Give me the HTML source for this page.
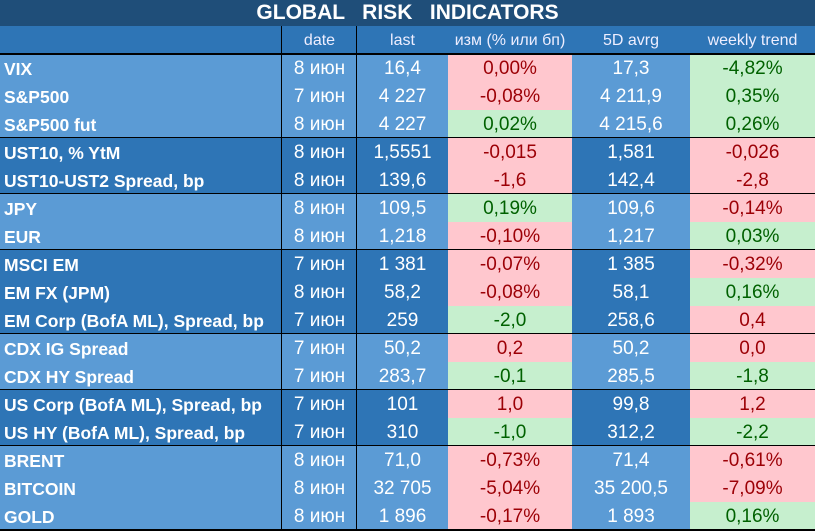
<!DOCTYPE html>
<html><head><meta charset="utf-8"><style>
body{margin:0;width:815px;height:530px;overflow:hidden;background:#fff;font-family:"Liberation Sans","DejaVu Sans",sans-serif}
#t{position:relative;width:815px;height:530px}
.c{position:absolute;box-sizing:border-box;color:#fff;font-size:19px;display:flex;align-items:center;justify-content:center;white-space:nowrap;overflow:hidden;padding-top:2px}
.n{justify-content:flex-start;padding-left:4px;font-weight:bold;font-size:17.5px}
.pos{background:#c6efce;color:#006100}
.neg{background:#ffc7ce;color:#9c0006}
.h{font-size:16px;color:#eef}
.line{position:absolute;background:#000}
</style></head><body>
<div id="t"></div>
<script>
const names=["VIX","S&P500","S&P500 fut","UST10, % YtM","UST10-UST2 Spread, bp","JPY","EUR","MSCI EM","EM FX (JPM)","EM Corp (BofA ML), Spread, bp","CDX IG Spread","CDX HY Spread","US Corp (BofA ML), Spread, bp","US HY (BofA ML), Spread, bp","BRENT","BITCOIN","GOLD"];
const dates=["8 июн","7 июн","8 июн","8 июн","8 июн","8 июн","8 июн","7 июн","8 июн","7 июн","7 июн","7 июн","7 июн","7 июн","8 июн","8 июн","8 июн"];
const lasts=["16,4","4 227","4 227","1,5551","139,6","109,5","1,218","1 381","58,2","259","50,2","283,7","101","310","71,0","32 705","1 896"];
const changes=["0,00%","-0,08%","0,02%","-0,015","-1,6","0,19%","-0,10%","-0,07%","-0,08%","-2,0","0,2","-0,1","1,0","-1,0","-0,73%","-5,04%","-0,17%"];
const changeSign=["neg","neg","pos","neg","neg","pos","neg","neg","neg","pos","neg","pos","neg","pos","neg","neg","neg"];
const avgs=["17,3","4 211,9","4 215,6","1,581","142,4","109,6","1,217","1 385","58,1","258,6","50,2","285,5","99,8","312,2","71,4","35 200,5","1 893"];
const weekly=["-4,82%","0,35%","0,26%","-0,026","-2,8","-0,14%","0,03%","-0,32%","0,16%","0,4","0,0","-1,8","1,2","-2,2","-0,61%","-7,09%","0,16%"];
const weeklySign=["pos","pos","pos","neg","neg","neg","pos","neg","pos","neg","neg","pos","neg","pos","neg","neg","pos"];
const groups=[3,2,2,3,2,2,3];
const T=document.getElementById('t');
const cols=[[0,282],[282,357],[357,448],[448,572],[572,690],[690,815]];
function cell(x0,x1,y,h,txt,cls,bg,name){const d=document.createElement('div');d.className='c '+(cls||'');d.style.left=x0+'px';d.style.width=(x1-x0)+'px';d.style.top=y+'px';d.style.height=h+'px';if(bg)d.style.background=bg;d.textContent=txt;


T.appendChild(d);return d;}
const title=cell(0,815,0,26,"GLOBAL   RISK   INDICATORS","", "#1f4e79","table-title");
title.style.fontWeight='bold';title.style.fontSize='21px';title.style.whiteSpace='pre';title.style.paddingTop='0';
const hdr=["","date","last","изм (% или бп)","5D avrg","weekly trend"];
hdr.forEach((t,i)=>cell(cols[i][0],cols[i][1],26,28,t,"h","#2e75b6","header-"+i));
let r=0;const RH=28,Y0=54;
groups.forEach((g,gi)=>{const bg=gi%2?"#2e75b6":"#5b9bd5";
for(let k=0;k<g;k++,r++){const y=Y0+r*RH;
cell(0,282,y,RH,names[r],"n",bg,"row-name");
cell(282,357,y,RH,dates[r],"",bg,"row-date");
cell(357,448,y,RH,lasts[r],"",bg,"row-last");
cell(448,572,y,RH,changes[r],changeSign[r],null,"row-change");
cell(572,690,y,RH,avgs[r],"",bg,"row-5d-avg");
cell(690,815,y,RH,weekly[r],weeklySign[r],null,"row-weekly-trend");}
const ln=document.createElement('div');ln.className='line';ln.style.cssText='left:0;width:815px;top:'+(Y0+r*RH-1)+'px;height:2px';


T.appendChild(ln);});
const hl=document.createElement('div');hl.className='line';hl.style.cssText='left:0;width:815px;top:53px;height:2px';


T.appendChild(hl);
[282,357].forEach(x=>{const v=document.createElement('div');v.className='line';v.style.cssText='left:'+(x-1)+'px;width:1px;top:26px;height:504px';


T.appendChild(v);});
</script>
</body></html>
